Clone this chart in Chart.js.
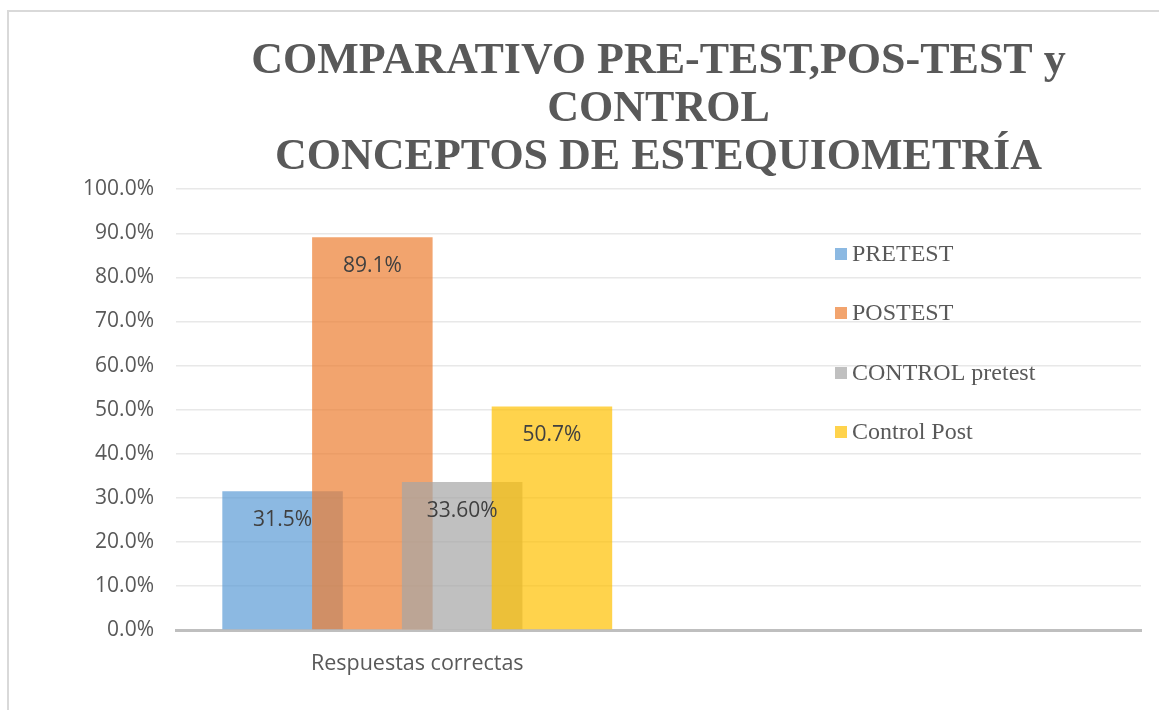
<!DOCTYPE html>
<html>
<head>
<meta charset="utf-8">
<script src="https://cdn.jsdelivr.net/npm/chart.js@4.4.1/dist/chart.umd.min.js"></script>
<style>
  html, body { margin: 0; padding: 0; background: #ffffff; }
  #wrap { position: relative; width: 1159px; height: 710px; overflow: hidden; }
  #frame { position: absolute; left: 7px; top: 10px; width: 1200px; height: 800px;
           border-left: 2px solid #D9D9D9; border-top: 2px solid #D9D9D9; box-sizing: border-box; }
  canvas { position: absolute; left: 0; top: 0; }
</style>
</head>
<body>
<div id="wrap">
  <div id="frame"></div>
  <canvas id="c" width="1159" height="710"></canvas>
</div>
<script>
// ---- data ----
const categories = ["Respuestas correctas", ""];
const seriesNames = ["PRETEST", "POSTEST", "CONTROL pretest", "Control Post"];
const pretest = [0.315, null];
const postest = [0.891, null];
const controlPretest = [0.336, null];
const controlPost = [0.507, null];
const valueLabels = ["31.5%", "89.1%", "33.60%", "50.7%"];
const titleLines = ["COMPARATIVO PRE-TEST,POS-TEST y", "CONTROL", "CONCEPTOS DE ESTEQUIOMETRÍA"];

const colors = [
  "rgba(91,155,213,0.7)",
  "rgba(237,125,49,0.7)",
  "rgba(165,165,165,0.7)",
  "rgba(255,192,0,0.7)"
];
const seriesValues = [pretest, postest, controlPretest, controlPost];

// draw datasets in forward order so later series sit on top (like Excel overlap)
const forwardDraw = {
  id: 'forwardDraw',
  beforeDatasetsDraw(chart) {
    const metas = chart.getSortedVisibleDatasetMetas();
    for (let i = 0; i < metas.length; i++) chart._drawDataset(metas[i]);
    return false;
  }
};

const labelsAndLegend = {
  id: 'labelsAndLegend',
  afterDraw(chart) {
    const ctx = chart.ctx;
    ctx.save();
    // data labels (inside end)
    ctx.font = '21px "Open Sans"';
    ctx.fillStyle = '#404040';
    ctx.textAlign = 'center';
    ctx.textBaseline = 'middle';
    chart.data.datasets.forEach((ds, i) => {
      const meta = chart.getDatasetMeta(i);
      const el = meta.data[0];
      if (!el) return;
      ctx.fillText(valueLabels[i], el.x, el.y + 29);
    });
    // legend
    const lx = 835, ys = [254, 313, 373, 432];
    ctx.font = '24px "Liberation Serif"';
    ctx.textAlign = 'left';
    seriesNames.forEach((n, i) => {
      ctx.fillStyle = colors[i];
      ctx.fillRect(lx, ys[i] - 6, 12, 12);
      ctx.fillStyle = '#595959';
      ctx.fillText(n, lx + 17, ys[i] + 1);
    });
    ctx.restore();
  }
};

new Chart(document.getElementById('c'), {
  type: 'bar',
  data: {
    labels: categories,
    datasets: seriesNames.map((n, i) => ({
      label: n,
      data: seriesValues[i],
      backgroundColor: colors[i],
      borderWidth: 0
    }))
  },
  options: {
    responsive: false,
    animation: false,
    devicePixelRatio: 1,
    categoryPercentage: 0.7444,
    barPercentage: 1.342,
    layout: { padding: { top: 37, right: 18, left: 0, bottom: 0 } },
    plugins: {
      legend: { display: false },
      tooltip: { enabled: false },
      title: {
        display: true,
        fullSize: false,
        text: titleLines,
        color: '#595959',
        font: { family: '"Liberation Serif"', size: 44, weight: 'bold', lineHeight: 1.1 },
        padding: { top: 0, bottom: 7 }
      }
    },
    scales: {
      x: {
        grid: { display: false, drawTicks: false },
        border: { display: true, color: '#BFBFBF', width: 3 },
        ticks: { color: '#595959', font: { family: '"Open Sans"', size: 21.5 }, padding: 21 },
        afterFit(s) { s.height = 80; }
      },
      y: {
        min: 0, max: 1,
        ticks: {
          stepSize: 0.1,
          color: '#595959',
          font: { family: '"Open Sans"', size: 21 },
          padding: 22,
          callback: v => (v * 100).toFixed(1) + '%'
        },
        grid: { color: '#E8E8E8', lineWidth: 1.5, drawTicks: false },
        border: { display: false },
        afterFit(s) { s.width = 176; }
      }
    }
  },
  plugins: [forwardDraw, labelsAndLegend]
});
</script>
</body>
</html>
